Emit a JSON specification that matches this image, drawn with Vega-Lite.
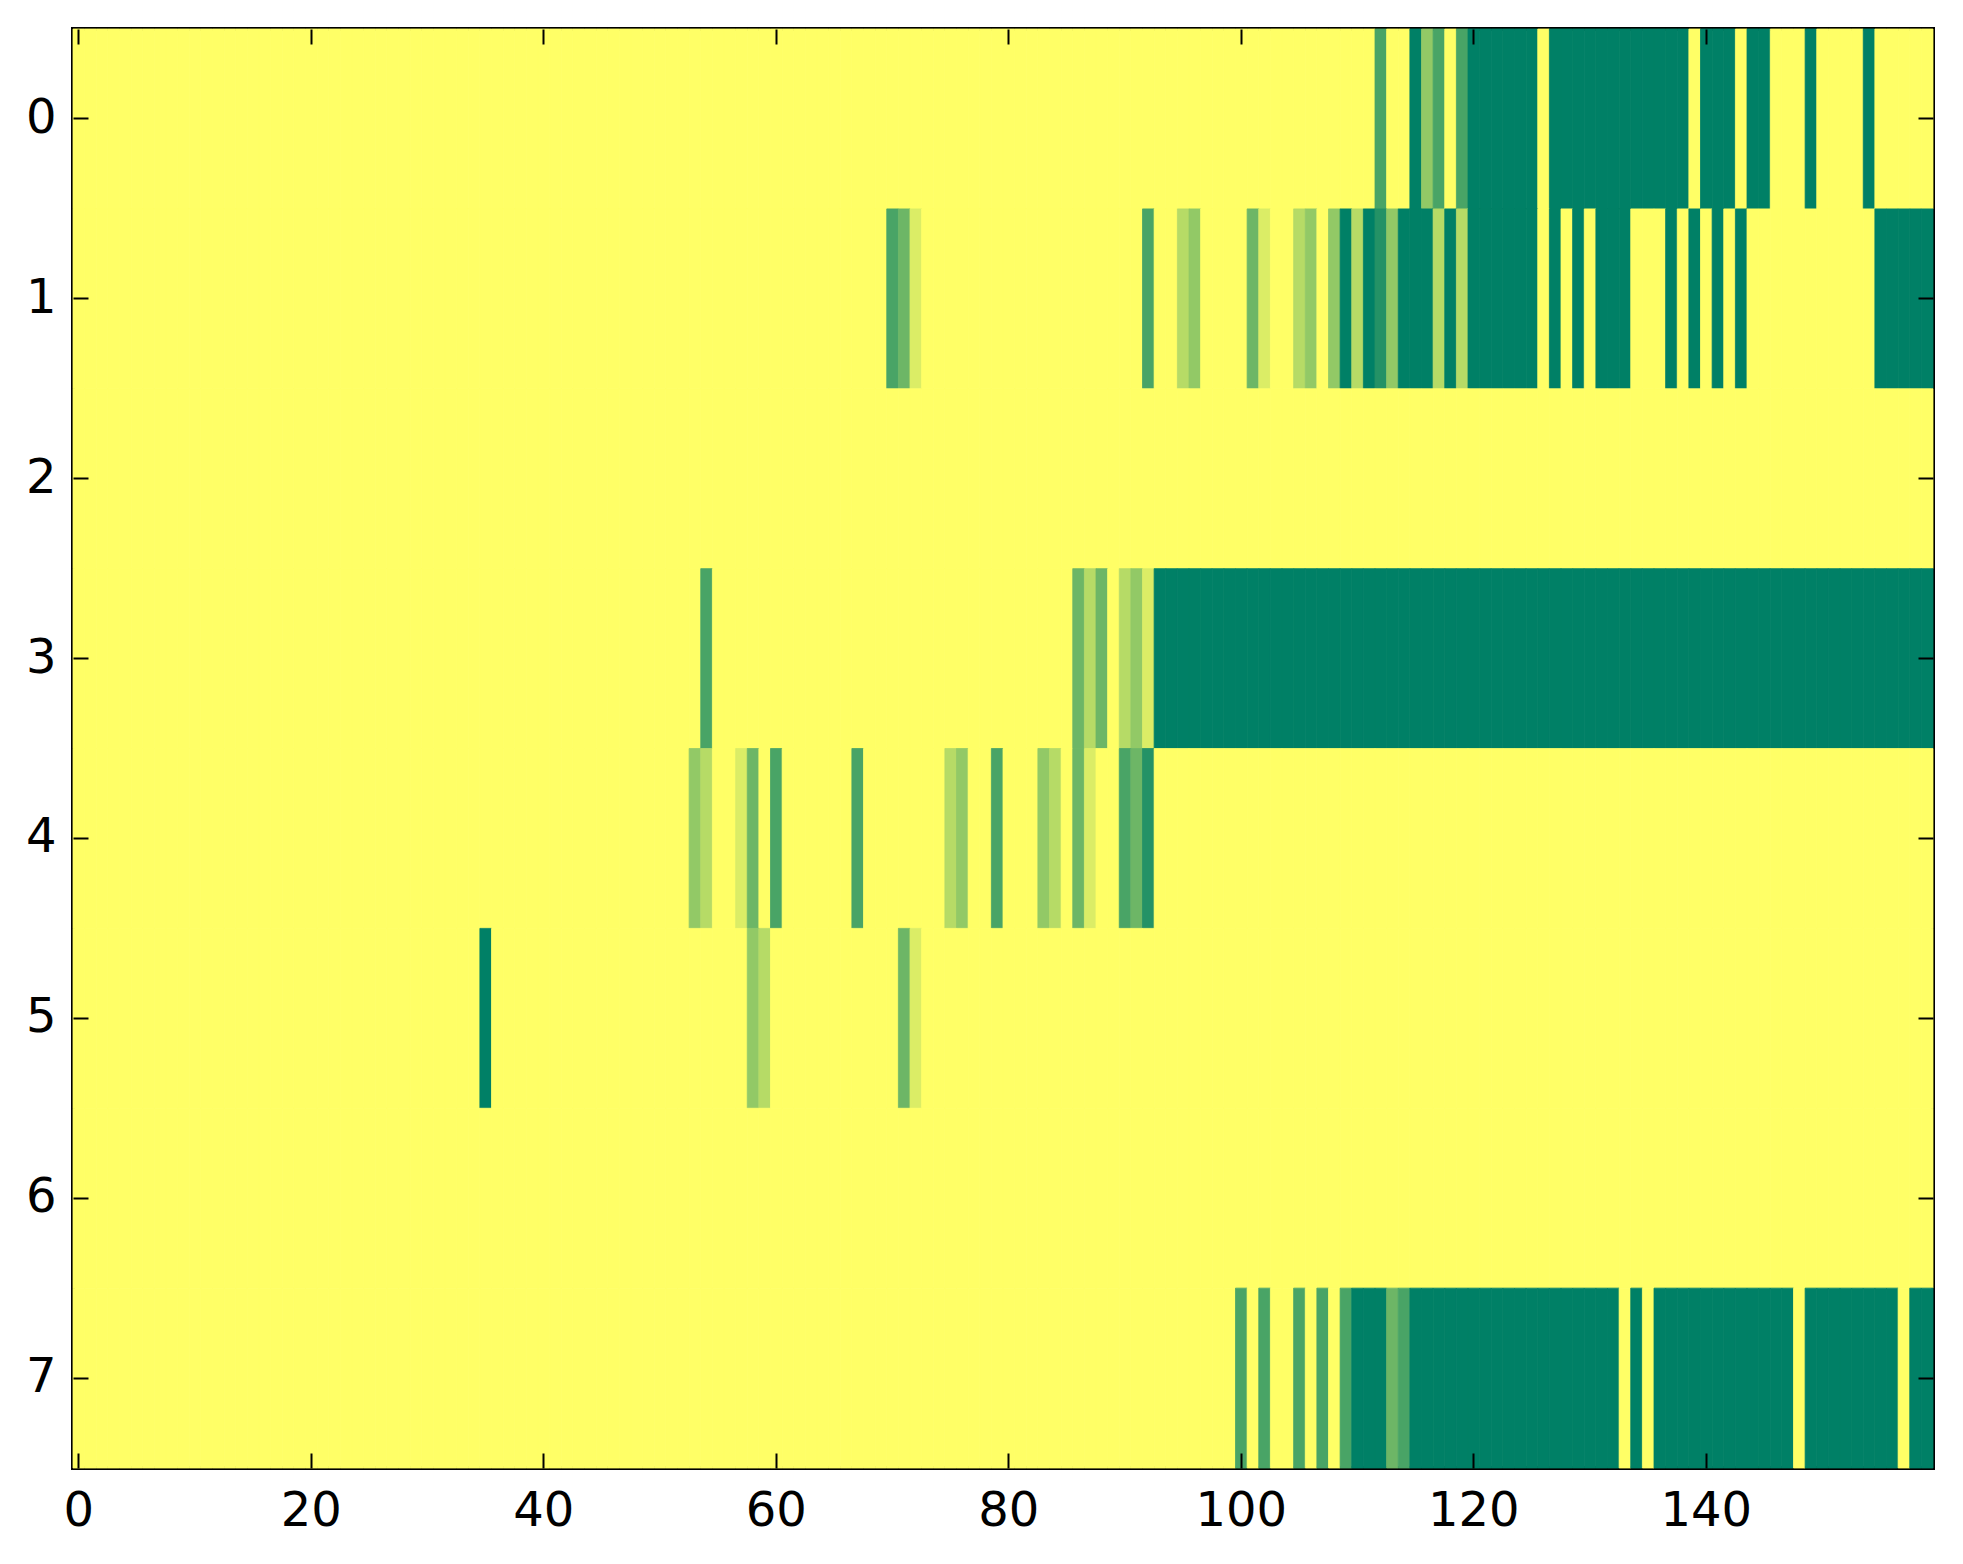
{
  "$schema": "https://vega.github.io/schema/vega-lite/v6.json",
  "width": 1860,
  "height": 1439,
  "autosize": {"type": "none"},
  "padding": {"left": 73, "top": 29, "right": 30, "bottom": 96},
  "background": "white",
  "config": {
    "view": {"stroke": "black", "strokeWidth": 4},
    "axis": {
      "labelFont": "DejaVu Sans",
      "labelFontSize": 48,
      "labelColor": "black",
      "tickColor": "black",
      "tickWidth": 2,
      "tickSize": -15,
      "domain": false,
      "grid": false,
      "title": null,
      "labelAngle": 0
    }
  },
  "data": {"values": [
{"r":0,"c":0,"v":0},{"r":0,"c":1,"v":0},{"r":0,"c":2,"v":0},{"r":0,"c":3,"v":0},{"r":0,"c":4,"v":0},{"r":0,"c":5,"v":0},{"r":0,"c":6,"v":0},{"r":0,"c":7,"v":0},{"r":0,"c":8,"v":0},{"r":0,"c":9,"v":0},
{"r":0,"c":10,"v":0},{"r":0,"c":11,"v":0},{"r":0,"c":12,"v":0},{"r":0,"c":13,"v":0},{"r":0,"c":14,"v":0},{"r":0,"c":15,"v":0},{"r":0,"c":16,"v":0},{"r":0,"c":17,"v":0},{"r":0,"c":18,"v":0},{"r":0,"c":19,"v":0},
{"r":0,"c":20,"v":0},{"r":0,"c":21,"v":0},{"r":0,"c":22,"v":0},{"r":0,"c":23,"v":0},{"r":0,"c":24,"v":0},{"r":0,"c":25,"v":0},{"r":0,"c":26,"v":0},{"r":0,"c":27,"v":0},{"r":0,"c":28,"v":0},{"r":0,"c":29,"v":0},
{"r":0,"c":30,"v":0},{"r":0,"c":31,"v":0},{"r":0,"c":32,"v":0},{"r":0,"c":33,"v":0},{"r":0,"c":34,"v":0},{"r":0,"c":35,"v":0},{"r":0,"c":36,"v":0},{"r":0,"c":37,"v":0},{"r":0,"c":38,"v":0},{"r":0,"c":39,"v":0},
{"r":0,"c":40,"v":0},{"r":0,"c":41,"v":0},{"r":0,"c":42,"v":0},{"r":0,"c":43,"v":0},{"r":0,"c":44,"v":0},{"r":0,"c":45,"v":0},{"r":0,"c":46,"v":0},{"r":0,"c":47,"v":0},{"r":0,"c":48,"v":0},{"r":0,"c":49,"v":0},
{"r":0,"c":50,"v":0},{"r":0,"c":51,"v":0},{"r":0,"c":52,"v":0},{"r":0,"c":53,"v":0},{"r":0,"c":54,"v":0},{"r":0,"c":55,"v":0},{"r":0,"c":56,"v":0},{"r":0,"c":57,"v":0},{"r":0,"c":58,"v":0},{"r":0,"c":59,"v":0},
{"r":0,"c":60,"v":0},{"r":0,"c":61,"v":0},{"r":0,"c":62,"v":0},{"r":0,"c":63,"v":0},{"r":0,"c":64,"v":0},{"r":0,"c":65,"v":0},{"r":0,"c":66,"v":0},{"r":0,"c":67,"v":0},{"r":0,"c":68,"v":0},{"r":0,"c":69,"v":0},
{"r":0,"c":70,"v":0},{"r":0,"c":71,"v":0},{"r":0,"c":72,"v":0},{"r":0,"c":73,"v":0},{"r":0,"c":74,"v":0},{"r":0,"c":75,"v":0},{"r":0,"c":76,"v":0},{"r":0,"c":77,"v":0},{"r":0,"c":78,"v":0},{"r":0,"c":79,"v":0},
{"r":0,"c":80,"v":0},{"r":0,"c":81,"v":0},{"r":0,"c":82,"v":0},{"r":0,"c":83,"v":0},{"r":0,"c":84,"v":0},{"r":0,"c":85,"v":0},{"r":0,"c":86,"v":0},{"r":0,"c":87,"v":0},{"r":0,"c":88,"v":0},{"r":0,"c":89,"v":0},
{"r":0,"c":90,"v":0},{"r":0,"c":91,"v":0},{"r":0,"c":92,"v":0},{"r":0,"c":93,"v":0},{"r":0,"c":94,"v":0},{"r":0,"c":95,"v":0},{"r":0,"c":96,"v":0},{"r":0,"c":97,"v":0},{"r":0,"c":98,"v":0},{"r":0,"c":99,"v":0},
{"r":0,"c":100,"v":0},{"r":0,"c":101,"v":0},{"r":0,"c":102,"v":0},{"r":0,"c":103,"v":0},{"r":0,"c":104,"v":0},{"r":0,"c":105,"v":0},{"r":0,"c":106,"v":0},{"r":0,"c":107,"v":0},{"r":0,"c":108,"v":0},{"r":0,"c":109,"v":0},
{"r":0,"c":110,"v":0},{"r":0,"c":111,"v":0},{"r":0,"c":112,"v":5},{"r":0,"c":113,"v":0},{"r":0,"c":114,"v":0},{"r":0,"c":115,"v":7},{"r":0,"c":116,"v":3},{"r":0,"c":117,"v":5},{"r":0,"c":118,"v":0},{"r":0,"c":119,"v":5},
{"r":0,"c":120,"v":7},{"r":0,"c":121,"v":7},{"r":0,"c":122,"v":7},{"r":0,"c":123,"v":7},{"r":0,"c":124,"v":7},{"r":0,"c":125,"v":7},{"r":0,"c":126,"v":0},{"r":0,"c":127,"v":7},{"r":0,"c":128,"v":7},{"r":0,"c":129,"v":7},
{"r":0,"c":130,"v":7},{"r":0,"c":131,"v":7},{"r":0,"c":132,"v":7},{"r":0,"c":133,"v":7},{"r":0,"c":134,"v":7},{"r":0,"c":135,"v":7},{"r":0,"c":136,"v":7},{"r":0,"c":137,"v":7},{"r":0,"c":138,"v":7},{"r":0,"c":139,"v":0},
{"r":0,"c":140,"v":7},{"r":0,"c":141,"v":7},{"r":0,"c":142,"v":7},{"r":0,"c":143,"v":0},{"r":0,"c":144,"v":7},{"r":0,"c":145,"v":7},{"r":0,"c":146,"v":0},{"r":0,"c":147,"v":0},{"r":0,"c":148,"v":0},{"r":0,"c":149,"v":7},
{"r":0,"c":150,"v":0},{"r":0,"c":151,"v":0},{"r":0,"c":152,"v":0},{"r":0,"c":153,"v":0},{"r":0,"c":154,"v":7},{"r":0,"c":155,"v":0},{"r":0,"c":156,"v":0},{"r":0,"c":157,"v":0},{"r":0,"c":158,"v":0},{"r":0,"c":159,"v":0},
{"r":1,"c":0,"v":0},{"r":1,"c":1,"v":0},{"r":1,"c":2,"v":0},{"r":1,"c":3,"v":0},{"r":1,"c":4,"v":0},{"r":1,"c":5,"v":0},{"r":1,"c":6,"v":0},{"r":1,"c":7,"v":0},{"r":1,"c":8,"v":0},{"r":1,"c":9,"v":0},
{"r":1,"c":10,"v":0},{"r":1,"c":11,"v":0},{"r":1,"c":12,"v":0},{"r":1,"c":13,"v":0},{"r":1,"c":14,"v":0},{"r":1,"c":15,"v":0},{"r":1,"c":16,"v":0},{"r":1,"c":17,"v":0},{"r":1,"c":18,"v":0},{"r":1,"c":19,"v":0},
{"r":1,"c":20,"v":0},{"r":1,"c":21,"v":0},{"r":1,"c":22,"v":0},{"r":1,"c":23,"v":0},{"r":1,"c":24,"v":0},{"r":1,"c":25,"v":0},{"r":1,"c":26,"v":0},{"r":1,"c":27,"v":0},{"r":1,"c":28,"v":0},{"r":1,"c":29,"v":0},
{"r":1,"c":30,"v":0},{"r":1,"c":31,"v":0},{"r":1,"c":32,"v":0},{"r":1,"c":33,"v":0},{"r":1,"c":34,"v":0},{"r":1,"c":35,"v":0},{"r":1,"c":36,"v":0},{"r":1,"c":37,"v":0},{"r":1,"c":38,"v":0},{"r":1,"c":39,"v":0},
{"r":1,"c":40,"v":0},{"r":1,"c":41,"v":0},{"r":1,"c":42,"v":0},{"r":1,"c":43,"v":0},{"r":1,"c":44,"v":0},{"r":1,"c":45,"v":0},{"r":1,"c":46,"v":0},{"r":1,"c":47,"v":0},{"r":1,"c":48,"v":0},{"r":1,"c":49,"v":0},
{"r":1,"c":50,"v":0},{"r":1,"c":51,"v":0},{"r":1,"c":52,"v":0},{"r":1,"c":53,"v":0},{"r":1,"c":54,"v":0},{"r":1,"c":55,"v":0},{"r":1,"c":56,"v":0},{"r":1,"c":57,"v":0},{"r":1,"c":58,"v":0},{"r":1,"c":59,"v":0},
{"r":1,"c":60,"v":0},{"r":1,"c":61,"v":0},{"r":1,"c":62,"v":0},{"r":1,"c":63,"v":0},{"r":1,"c":64,"v":0},{"r":1,"c":65,"v":0},{"r":1,"c":66,"v":0},{"r":1,"c":67,"v":0},{"r":1,"c":68,"v":0},{"r":1,"c":69,"v":0},
{"r":1,"c":70,"v":5},{"r":1,"c":71,"v":4},{"r":1,"c":72,"v":1},{"r":1,"c":73,"v":0},{"r":1,"c":74,"v":0},{"r":1,"c":75,"v":0},{"r":1,"c":76,"v":0},{"r":1,"c":77,"v":0},{"r":1,"c":78,"v":0},{"r":1,"c":79,"v":0},
{"r":1,"c":80,"v":0},{"r":1,"c":81,"v":0},{"r":1,"c":82,"v":0},{"r":1,"c":83,"v":0},{"r":1,"c":84,"v":0},{"r":1,"c":85,"v":0},{"r":1,"c":86,"v":0},{"r":1,"c":87,"v":0},{"r":1,"c":88,"v":0},{"r":1,"c":89,"v":0},
{"r":1,"c":90,"v":0},{"r":1,"c":91,"v":0},{"r":1,"c":92,"v":5},{"r":1,"c":93,"v":0},{"r":1,"c":94,"v":0},{"r":1,"c":95,"v":2},{"r":1,"c":96,"v":3},{"r":1,"c":97,"v":0},{"r":1,"c":98,"v":0},{"r":1,"c":99,"v":0},
{"r":1,"c":100,"v":0},{"r":1,"c":101,"v":4},{"r":1,"c":102,"v":1},{"r":1,"c":103,"v":0},{"r":1,"c":104,"v":0},{"r":1,"c":105,"v":2},{"r":1,"c":106,"v":3},{"r":1,"c":107,"v":0},{"r":1,"c":108,"v":3},{"r":1,"c":109,"v":7},
{"r":1,"c":110,"v":2},{"r":1,"c":111,"v":7},{"r":1,"c":112,"v":6},{"r":1,"c":113,"v":3},{"r":1,"c":114,"v":7},{"r":1,"c":115,"v":7},{"r":1,"c":116,"v":7},{"r":1,"c":117,"v":2},{"r":1,"c":118,"v":7},{"r":1,"c":119,"v":2},
{"r":1,"c":120,"v":7},{"r":1,"c":121,"v":7},{"r":1,"c":122,"v":7},{"r":1,"c":123,"v":7},{"r":1,"c":124,"v":7},{"r":1,"c":125,"v":7},{"r":1,"c":126,"v":0},{"r":1,"c":127,"v":7},{"r":1,"c":128,"v":0},{"r":1,"c":129,"v":7},
{"r":1,"c":130,"v":0},{"r":1,"c":131,"v":7},{"r":1,"c":132,"v":7},{"r":1,"c":133,"v":7},{"r":1,"c":134,"v":0},{"r":1,"c":135,"v":0},{"r":1,"c":136,"v":0},{"r":1,"c":137,"v":7},{"r":1,"c":138,"v":0},{"r":1,"c":139,"v":7},
{"r":1,"c":140,"v":0},{"r":1,"c":141,"v":7},{"r":1,"c":142,"v":0},{"r":1,"c":143,"v":7},{"r":1,"c":144,"v":0},{"r":1,"c":145,"v":0},{"r":1,"c":146,"v":0},{"r":1,"c":147,"v":0},{"r":1,"c":148,"v":0},{"r":1,"c":149,"v":0},
{"r":1,"c":150,"v":0},{"r":1,"c":151,"v":0},{"r":1,"c":152,"v":0},{"r":1,"c":153,"v":0},{"r":1,"c":154,"v":0},{"r":1,"c":155,"v":7},{"r":1,"c":156,"v":7},{"r":1,"c":157,"v":7},{"r":1,"c":158,"v":7},{"r":1,"c":159,"v":7},
{"r":2,"c":0,"v":0},{"r":2,"c":1,"v":0},{"r":2,"c":2,"v":0},{"r":2,"c":3,"v":0},{"r":2,"c":4,"v":0},{"r":2,"c":5,"v":0},{"r":2,"c":6,"v":0},{"r":2,"c":7,"v":0},{"r":2,"c":8,"v":0},{"r":2,"c":9,"v":0},
{"r":2,"c":10,"v":0},{"r":2,"c":11,"v":0},{"r":2,"c":12,"v":0},{"r":2,"c":13,"v":0},{"r":2,"c":14,"v":0},{"r":2,"c":15,"v":0},{"r":2,"c":16,"v":0},{"r":2,"c":17,"v":0},{"r":2,"c":18,"v":0},{"r":2,"c":19,"v":0},
{"r":2,"c":20,"v":0},{"r":2,"c":21,"v":0},{"r":2,"c":22,"v":0},{"r":2,"c":23,"v":0},{"r":2,"c":24,"v":0},{"r":2,"c":25,"v":0},{"r":2,"c":26,"v":0},{"r":2,"c":27,"v":0},{"r":2,"c":28,"v":0},{"r":2,"c":29,"v":0},
{"r":2,"c":30,"v":0},{"r":2,"c":31,"v":0},{"r":2,"c":32,"v":0},{"r":2,"c":33,"v":0},{"r":2,"c":34,"v":0},{"r":2,"c":35,"v":0},{"r":2,"c":36,"v":0},{"r":2,"c":37,"v":0},{"r":2,"c":38,"v":0},{"r":2,"c":39,"v":0},
{"r":2,"c":40,"v":0},{"r":2,"c":41,"v":0},{"r":2,"c":42,"v":0},{"r":2,"c":43,"v":0},{"r":2,"c":44,"v":0},{"r":2,"c":45,"v":0},{"r":2,"c":46,"v":0},{"r":2,"c":47,"v":0},{"r":2,"c":48,"v":0},{"r":2,"c":49,"v":0},
{"r":2,"c":50,"v":0},{"r":2,"c":51,"v":0},{"r":2,"c":52,"v":0},{"r":2,"c":53,"v":0},{"r":2,"c":54,"v":0},{"r":2,"c":55,"v":0},{"r":2,"c":56,"v":0},{"r":2,"c":57,"v":0},{"r":2,"c":58,"v":0},{"r":2,"c":59,"v":0},
{"r":2,"c":60,"v":0},{"r":2,"c":61,"v":0},{"r":2,"c":62,"v":0},{"r":2,"c":63,"v":0},{"r":2,"c":64,"v":0},{"r":2,"c":65,"v":0},{"r":2,"c":66,"v":0},{"r":2,"c":67,"v":0},{"r":2,"c":68,"v":0},{"r":2,"c":69,"v":0},
{"r":2,"c":70,"v":0},{"r":2,"c":71,"v":0},{"r":2,"c":72,"v":0},{"r":2,"c":73,"v":0},{"r":2,"c":74,"v":0},{"r":2,"c":75,"v":0},{"r":2,"c":76,"v":0},{"r":2,"c":77,"v":0},{"r":2,"c":78,"v":0},{"r":2,"c":79,"v":0},
{"r":2,"c":80,"v":0},{"r":2,"c":81,"v":0},{"r":2,"c":82,"v":0},{"r":2,"c":83,"v":0},{"r":2,"c":84,"v":0},{"r":2,"c":85,"v":0},{"r":2,"c":86,"v":0},{"r":2,"c":87,"v":0},{"r":2,"c":88,"v":0},{"r":2,"c":89,"v":0},
{"r":2,"c":90,"v":0},{"r":2,"c":91,"v":0},{"r":2,"c":92,"v":0},{"r":2,"c":93,"v":0},{"r":2,"c":94,"v":0},{"r":2,"c":95,"v":0},{"r":2,"c":96,"v":0},{"r":2,"c":97,"v":0},{"r":2,"c":98,"v":0},{"r":2,"c":99,"v":0},
{"r":2,"c":100,"v":0},{"r":2,"c":101,"v":0},{"r":2,"c":102,"v":0},{"r":2,"c":103,"v":0},{"r":2,"c":104,"v":0},{"r":2,"c":105,"v":0},{"r":2,"c":106,"v":0},{"r":2,"c":107,"v":0},{"r":2,"c":108,"v":0},{"r":2,"c":109,"v":0},
{"r":2,"c":110,"v":0},{"r":2,"c":111,"v":0},{"r":2,"c":112,"v":0},{"r":2,"c":113,"v":0},{"r":2,"c":114,"v":0},{"r":2,"c":115,"v":0},{"r":2,"c":116,"v":0},{"r":2,"c":117,"v":0},{"r":2,"c":118,"v":0},{"r":2,"c":119,"v":0},
{"r":2,"c":120,"v":0},{"r":2,"c":121,"v":0},{"r":2,"c":122,"v":0},{"r":2,"c":123,"v":0},{"r":2,"c":124,"v":0},{"r":2,"c":125,"v":0},{"r":2,"c":126,"v":0},{"r":2,"c":127,"v":0},{"r":2,"c":128,"v":0},{"r":2,"c":129,"v":0},
{"r":2,"c":130,"v":0},{"r":2,"c":131,"v":0},{"r":2,"c":132,"v":0},{"r":2,"c":133,"v":0},{"r":2,"c":134,"v":0},{"r":2,"c":135,"v":0},{"r":2,"c":136,"v":0},{"r":2,"c":137,"v":0},{"r":2,"c":138,"v":0},{"r":2,"c":139,"v":0},
{"r":2,"c":140,"v":0},{"r":2,"c":141,"v":0},{"r":2,"c":142,"v":0},{"r":2,"c":143,"v":0},{"r":2,"c":144,"v":0},{"r":2,"c":145,"v":0},{"r":2,"c":146,"v":0},{"r":2,"c":147,"v":0},{"r":2,"c":148,"v":0},{"r":2,"c":149,"v":0},
{"r":2,"c":150,"v":0},{"r":2,"c":151,"v":0},{"r":2,"c":152,"v":0},{"r":2,"c":153,"v":0},{"r":2,"c":154,"v":0},{"r":2,"c":155,"v":0},{"r":2,"c":156,"v":0},{"r":2,"c":157,"v":0},{"r":2,"c":158,"v":0},{"r":2,"c":159,"v":0},
{"r":3,"c":0,"v":0},{"r":3,"c":1,"v":0},{"r":3,"c":2,"v":0},{"r":3,"c":3,"v":0},{"r":3,"c":4,"v":0},{"r":3,"c":5,"v":0},{"r":3,"c":6,"v":0},{"r":3,"c":7,"v":0},{"r":3,"c":8,"v":0},{"r":3,"c":9,"v":0},
{"r":3,"c":10,"v":0},{"r":3,"c":11,"v":0},{"r":3,"c":12,"v":0},{"r":3,"c":13,"v":0},{"r":3,"c":14,"v":0},{"r":3,"c":15,"v":0},{"r":3,"c":16,"v":0},{"r":3,"c":17,"v":0},{"r":3,"c":18,"v":0},{"r":3,"c":19,"v":0},
{"r":3,"c":20,"v":0},{"r":3,"c":21,"v":0},{"r":3,"c":22,"v":0},{"r":3,"c":23,"v":0},{"r":3,"c":24,"v":0},{"r":3,"c":25,"v":0},{"r":3,"c":26,"v":0},{"r":3,"c":27,"v":0},{"r":3,"c":28,"v":0},{"r":3,"c":29,"v":0},
{"r":3,"c":30,"v":0},{"r":3,"c":31,"v":0},{"r":3,"c":32,"v":0},{"r":3,"c":33,"v":0},{"r":3,"c":34,"v":0},{"r":3,"c":35,"v":0},{"r":3,"c":36,"v":0},{"r":3,"c":37,"v":0},{"r":3,"c":38,"v":0},{"r":3,"c":39,"v":0},
{"r":3,"c":40,"v":0},{"r":3,"c":41,"v":0},{"r":3,"c":42,"v":0},{"r":3,"c":43,"v":0},{"r":3,"c":44,"v":0},{"r":3,"c":45,"v":0},{"r":3,"c":46,"v":0},{"r":3,"c":47,"v":0},{"r":3,"c":48,"v":0},{"r":3,"c":49,"v":0},
{"r":3,"c":50,"v":0},{"r":3,"c":51,"v":0},{"r":3,"c":52,"v":0},{"r":3,"c":53,"v":0},{"r":3,"c":54,"v":5},{"r":3,"c":55,"v":0},{"r":3,"c":56,"v":0},{"r":3,"c":57,"v":0},{"r":3,"c":58,"v":0},{"r":3,"c":59,"v":0},
{"r":3,"c":60,"v":0},{"r":3,"c":61,"v":0},{"r":3,"c":62,"v":0},{"r":3,"c":63,"v":0},{"r":3,"c":64,"v":0},{"r":3,"c":65,"v":0},{"r":3,"c":66,"v":0},{"r":3,"c":67,"v":0},{"r":3,"c":68,"v":0},{"r":3,"c":69,"v":0},
{"r":3,"c":70,"v":0},{"r":3,"c":71,"v":0},{"r":3,"c":72,"v":0},{"r":3,"c":73,"v":0},{"r":3,"c":74,"v":0},{"r":3,"c":75,"v":0},{"r":3,"c":76,"v":0},{"r":3,"c":77,"v":0},{"r":3,"c":78,"v":0},{"r":3,"c":79,"v":0},
{"r":3,"c":80,"v":0},{"r":3,"c":81,"v":0},{"r":3,"c":82,"v":0},{"r":3,"c":83,"v":0},{"r":3,"c":84,"v":0},{"r":3,"c":85,"v":0},{"r":3,"c":86,"v":4},{"r":3,"c":87,"v":2},{"r":3,"c":88,"v":4},{"r":3,"c":89,"v":0},
{"r":3,"c":90,"v":2},{"r":3,"c":91,"v":3},{"r":3,"c":92,"v":1},{"r":3,"c":93,"v":7},{"r":3,"c":94,"v":7},{"r":3,"c":95,"v":7},{"r":3,"c":96,"v":7},{"r":3,"c":97,"v":7},{"r":3,"c":98,"v":7},{"r":3,"c":99,"v":7},
{"r":3,"c":100,"v":7},{"r":3,"c":101,"v":7},{"r":3,"c":102,"v":7},{"r":3,"c":103,"v":7},{"r":3,"c":104,"v":7},{"r":3,"c":105,"v":7},{"r":3,"c":106,"v":7},{"r":3,"c":107,"v":7},{"r":3,"c":108,"v":7},{"r":3,"c":109,"v":7},
{"r":3,"c":110,"v":7},{"r":3,"c":111,"v":7},{"r":3,"c":112,"v":7},{"r":3,"c":113,"v":7},{"r":3,"c":114,"v":7},{"r":3,"c":115,"v":7},{"r":3,"c":116,"v":7},{"r":3,"c":117,"v":7},{"r":3,"c":118,"v":7},{"r":3,"c":119,"v":7},
{"r":3,"c":120,"v":7},{"r":3,"c":121,"v":7},{"r":3,"c":122,"v":7},{"r":3,"c":123,"v":7},{"r":3,"c":124,"v":7},{"r":3,"c":125,"v":7},{"r":3,"c":126,"v":7},{"r":3,"c":127,"v":7},{"r":3,"c":128,"v":7},{"r":3,"c":129,"v":7},
{"r":3,"c":130,"v":7},{"r":3,"c":131,"v":7},{"r":3,"c":132,"v":7},{"r":3,"c":133,"v":7},{"r":3,"c":134,"v":7},{"r":3,"c":135,"v":7},{"r":3,"c":136,"v":7},{"r":3,"c":137,"v":7},{"r":3,"c":138,"v":7},{"r":3,"c":139,"v":7},
{"r":3,"c":140,"v":7},{"r":3,"c":141,"v":7},{"r":3,"c":142,"v":7},{"r":3,"c":143,"v":7},{"r":3,"c":144,"v":7},{"r":3,"c":145,"v":7},{"r":3,"c":146,"v":7},{"r":3,"c":147,"v":7},{"r":3,"c":148,"v":7},{"r":3,"c":149,"v":7},
{"r":3,"c":150,"v":7},{"r":3,"c":151,"v":7},{"r":3,"c":152,"v":7},{"r":3,"c":153,"v":7},{"r":3,"c":154,"v":7},{"r":3,"c":155,"v":7},{"r":3,"c":156,"v":7},{"r":3,"c":157,"v":7},{"r":3,"c":158,"v":7},{"r":3,"c":159,"v":7},
{"r":4,"c":0,"v":0},{"r":4,"c":1,"v":0},{"r":4,"c":2,"v":0},{"r":4,"c":3,"v":0},{"r":4,"c":4,"v":0},{"r":4,"c":5,"v":0},{"r":4,"c":6,"v":0},{"r":4,"c":7,"v":0},{"r":4,"c":8,"v":0},{"r":4,"c":9,"v":0},
{"r":4,"c":10,"v":0},{"r":4,"c":11,"v":0},{"r":4,"c":12,"v":0},{"r":4,"c":13,"v":0},{"r":4,"c":14,"v":0},{"r":4,"c":15,"v":0},{"r":4,"c":16,"v":0},{"r":4,"c":17,"v":0},{"r":4,"c":18,"v":0},{"r":4,"c":19,"v":0},
{"r":4,"c":20,"v":0},{"r":4,"c":21,"v":0},{"r":4,"c":22,"v":0},{"r":4,"c":23,"v":0},{"r":4,"c":24,"v":0},{"r":4,"c":25,"v":0},{"r":4,"c":26,"v":0},{"r":4,"c":27,"v":0},{"r":4,"c":28,"v":0},{"r":4,"c":29,"v":0},
{"r":4,"c":30,"v":0},{"r":4,"c":31,"v":0},{"r":4,"c":32,"v":0},{"r":4,"c":33,"v":0},{"r":4,"c":34,"v":0},{"r":4,"c":35,"v":0},{"r":4,"c":36,"v":0},{"r":4,"c":37,"v":0},{"r":4,"c":38,"v":0},{"r":4,"c":39,"v":0},
{"r":4,"c":40,"v":0},{"r":4,"c":41,"v":0},{"r":4,"c":42,"v":0},{"r":4,"c":43,"v":0},{"r":4,"c":44,"v":0},{"r":4,"c":45,"v":0},{"r":4,"c":46,"v":0},{"r":4,"c":47,"v":0},{"r":4,"c":48,"v":0},{"r":4,"c":49,"v":0},
{"r":4,"c":50,"v":0},{"r":4,"c":51,"v":0},{"r":4,"c":52,"v":0},{"r":4,"c":53,"v":3},{"r":4,"c":54,"v":2},{"r":4,"c":55,"v":0},{"r":4,"c":56,"v":0},{"r":4,"c":57,"v":1},{"r":4,"c":58,"v":4},{"r":4,"c":59,"v":0},
{"r":4,"c":60,"v":5},{"r":4,"c":61,"v":0},{"r":4,"c":62,"v":0},{"r":4,"c":63,"v":0},{"r":4,"c":64,"v":0},{"r":4,"c":65,"v":0},{"r":4,"c":66,"v":0},{"r":4,"c":67,"v":5},{"r":4,"c":68,"v":0},{"r":4,"c":69,"v":0},
{"r":4,"c":70,"v":0},{"r":4,"c":71,"v":0},{"r":4,"c":72,"v":0},{"r":4,"c":73,"v":0},{"r":4,"c":74,"v":0},{"r":4,"c":75,"v":2},{"r":4,"c":76,"v":3},{"r":4,"c":77,"v":0},{"r":4,"c":78,"v":0},{"r":4,"c":79,"v":5},
{"r":4,"c":80,"v":0},{"r":4,"c":81,"v":0},{"r":4,"c":82,"v":0},{"r":4,"c":83,"v":3},{"r":4,"c":84,"v":2},{"r":4,"c":85,"v":0},{"r":4,"c":86,"v":4},{"r":4,"c":87,"v":1},{"r":4,"c":88,"v":0},{"r":4,"c":89,"v":0},
{"r":4,"c":90,"v":5},{"r":4,"c":91,"v":4},{"r":4,"c":92,"v":6},{"r":4,"c":93,"v":0},{"r":4,"c":94,"v":0},{"r":4,"c":95,"v":0},{"r":4,"c":96,"v":0},{"r":4,"c":97,"v":0},{"r":4,"c":98,"v":0},{"r":4,"c":99,"v":0},
{"r":4,"c":100,"v":0},{"r":4,"c":101,"v":0},{"r":4,"c":102,"v":0},{"r":4,"c":103,"v":0},{"r":4,"c":104,"v":0},{"r":4,"c":105,"v":0},{"r":4,"c":106,"v":0},{"r":4,"c":107,"v":0},{"r":4,"c":108,"v":0},{"r":4,"c":109,"v":0},
{"r":4,"c":110,"v":0},{"r":4,"c":111,"v":0},{"r":4,"c":112,"v":0},{"r":4,"c":113,"v":0},{"r":4,"c":114,"v":0},{"r":4,"c":115,"v":0},{"r":4,"c":116,"v":0},{"r":4,"c":117,"v":0},{"r":4,"c":118,"v":0},{"r":4,"c":119,"v":0},
{"r":4,"c":120,"v":0},{"r":4,"c":121,"v":0},{"r":4,"c":122,"v":0},{"r":4,"c":123,"v":0},{"r":4,"c":124,"v":0},{"r":4,"c":125,"v":0},{"r":4,"c":126,"v":0},{"r":4,"c":127,"v":0},{"r":4,"c":128,"v":0},{"r":4,"c":129,"v":0},
{"r":4,"c":130,"v":0},{"r":4,"c":131,"v":0},{"r":4,"c":132,"v":0},{"r":4,"c":133,"v":0},{"r":4,"c":134,"v":0},{"r":4,"c":135,"v":0},{"r":4,"c":136,"v":0},{"r":4,"c":137,"v":0},{"r":4,"c":138,"v":0},{"r":4,"c":139,"v":0},
{"r":4,"c":140,"v":0},{"r":4,"c":141,"v":0},{"r":4,"c":142,"v":0},{"r":4,"c":143,"v":0},{"r":4,"c":144,"v":0},{"r":4,"c":145,"v":0},{"r":4,"c":146,"v":0},{"r":4,"c":147,"v":0},{"r":4,"c":148,"v":0},{"r":4,"c":149,"v":0},
{"r":4,"c":150,"v":0},{"r":4,"c":151,"v":0},{"r":4,"c":152,"v":0},{"r":4,"c":153,"v":0},{"r":4,"c":154,"v":0},{"r":4,"c":155,"v":0},{"r":4,"c":156,"v":0},{"r":4,"c":157,"v":0},{"r":4,"c":158,"v":0},{"r":4,"c":159,"v":0},
{"r":5,"c":0,"v":0},{"r":5,"c":1,"v":0},{"r":5,"c":2,"v":0},{"r":5,"c":3,"v":0},{"r":5,"c":4,"v":0},{"r":5,"c":5,"v":0},{"r":5,"c":6,"v":0},{"r":5,"c":7,"v":0},{"r":5,"c":8,"v":0},{"r":5,"c":9,"v":0},
{"r":5,"c":10,"v":0},{"r":5,"c":11,"v":0},{"r":5,"c":12,"v":0},{"r":5,"c":13,"v":0},{"r":5,"c":14,"v":0},{"r":5,"c":15,"v":0},{"r":5,"c":16,"v":0},{"r":5,"c":17,"v":0},{"r":5,"c":18,"v":0},{"r":5,"c":19,"v":0},
{"r":5,"c":20,"v":0},{"r":5,"c":21,"v":0},{"r":5,"c":22,"v":0},{"r":5,"c":23,"v":0},{"r":5,"c":24,"v":0},{"r":5,"c":25,"v":0},{"r":5,"c":26,"v":0},{"r":5,"c":27,"v":0},{"r":5,"c":28,"v":0},{"r":5,"c":29,"v":0},
{"r":5,"c":30,"v":0},{"r":5,"c":31,"v":0},{"r":5,"c":32,"v":0},{"r":5,"c":33,"v":0},{"r":5,"c":34,"v":0},{"r":5,"c":35,"v":7},{"r":5,"c":36,"v":0},{"r":5,"c":37,"v":0},{"r":5,"c":38,"v":0},{"r":5,"c":39,"v":0},
{"r":5,"c":40,"v":0},{"r":5,"c":41,"v":0},{"r":5,"c":42,"v":0},{"r":5,"c":43,"v":0},{"r":5,"c":44,"v":0},{"r":5,"c":45,"v":0},{"r":5,"c":46,"v":0},{"r":5,"c":47,"v":0},{"r":5,"c":48,"v":0},{"r":5,"c":49,"v":0},
{"r":5,"c":50,"v":0},{"r":5,"c":51,"v":0},{"r":5,"c":52,"v":0},{"r":5,"c":53,"v":0},{"r":5,"c":54,"v":0},{"r":5,"c":55,"v":0},{"r":5,"c":56,"v":0},{"r":5,"c":57,"v":0},{"r":5,"c":58,"v":3},{"r":5,"c":59,"v":2},
{"r":5,"c":60,"v":0},{"r":5,"c":61,"v":0},{"r":5,"c":62,"v":0},{"r":5,"c":63,"v":0},{"r":5,"c":64,"v":0},{"r":5,"c":65,"v":0},{"r":5,"c":66,"v":0},{"r":5,"c":67,"v":0},{"r":5,"c":68,"v":0},{"r":5,"c":69,"v":0},
{"r":5,"c":70,"v":0},{"r":5,"c":71,"v":4},{"r":5,"c":72,"v":1},{"r":5,"c":73,"v":0},{"r":5,"c":74,"v":0},{"r":5,"c":75,"v":0},{"r":5,"c":76,"v":0},{"r":5,"c":77,"v":0},{"r":5,"c":78,"v":0},{"r":5,"c":79,"v":0},
{"r":5,"c":80,"v":0},{"r":5,"c":81,"v":0},{"r":5,"c":82,"v":0},{"r":5,"c":83,"v":0},{"r":5,"c":84,"v":0},{"r":5,"c":85,"v":0},{"r":5,"c":86,"v":0},{"r":5,"c":87,"v":0},{"r":5,"c":88,"v":0},{"r":5,"c":89,"v":0},
{"r":5,"c":90,"v":0},{"r":5,"c":91,"v":0},{"r":5,"c":92,"v":0},{"r":5,"c":93,"v":0},{"r":5,"c":94,"v":0},{"r":5,"c":95,"v":0},{"r":5,"c":96,"v":0},{"r":5,"c":97,"v":0},{"r":5,"c":98,"v":0},{"r":5,"c":99,"v":0},
{"r":5,"c":100,"v":0},{"r":5,"c":101,"v":0},{"r":5,"c":102,"v":0},{"r":5,"c":103,"v":0},{"r":5,"c":104,"v":0},{"r":5,"c":105,"v":0},{"r":5,"c":106,"v":0},{"r":5,"c":107,"v":0},{"r":5,"c":108,"v":0},{"r":5,"c":109,"v":0},
{"r":5,"c":110,"v":0},{"r":5,"c":111,"v":0},{"r":5,"c":112,"v":0},{"r":5,"c":113,"v":0},{"r":5,"c":114,"v":0},{"r":5,"c":115,"v":0},{"r":5,"c":116,"v":0},{"r":5,"c":117,"v":0},{"r":5,"c":118,"v":0},{"r":5,"c":119,"v":0},
{"r":5,"c":120,"v":0},{"r":5,"c":121,"v":0},{"r":5,"c":122,"v":0},{"r":5,"c":123,"v":0},{"r":5,"c":124,"v":0},{"r":5,"c":125,"v":0},{"r":5,"c":126,"v":0},{"r":5,"c":127,"v":0},{"r":5,"c":128,"v":0},{"r":5,"c":129,"v":0},
{"r":5,"c":130,"v":0},{"r":5,"c":131,"v":0},{"r":5,"c":132,"v":0},{"r":5,"c":133,"v":0},{"r":5,"c":134,"v":0},{"r":5,"c":135,"v":0},{"r":5,"c":136,"v":0},{"r":5,"c":137,"v":0},{"r":5,"c":138,"v":0},{"r":5,"c":139,"v":0},
{"r":5,"c":140,"v":0},{"r":5,"c":141,"v":0},{"r":5,"c":142,"v":0},{"r":5,"c":143,"v":0},{"r":5,"c":144,"v":0},{"r":5,"c":145,"v":0},{"r":5,"c":146,"v":0},{"r":5,"c":147,"v":0},{"r":5,"c":148,"v":0},{"r":5,"c":149,"v":0},
{"r":5,"c":150,"v":0},{"r":5,"c":151,"v":0},{"r":5,"c":152,"v":0},{"r":5,"c":153,"v":0},{"r":5,"c":154,"v":0},{"r":5,"c":155,"v":0},{"r":5,"c":156,"v":0},{"r":5,"c":157,"v":0},{"r":5,"c":158,"v":0},{"r":5,"c":159,"v":0},
{"r":6,"c":0,"v":0},{"r":6,"c":1,"v":0},{"r":6,"c":2,"v":0},{"r":6,"c":3,"v":0},{"r":6,"c":4,"v":0},{"r":6,"c":5,"v":0},{"r":6,"c":6,"v":0},{"r":6,"c":7,"v":0},{"r":6,"c":8,"v":0},{"r":6,"c":9,"v":0},
{"r":6,"c":10,"v":0},{"r":6,"c":11,"v":0},{"r":6,"c":12,"v":0},{"r":6,"c":13,"v":0},{"r":6,"c":14,"v":0},{"r":6,"c":15,"v":0},{"r":6,"c":16,"v":0},{"r":6,"c":17,"v":0},{"r":6,"c":18,"v":0},{"r":6,"c":19,"v":0},
{"r":6,"c":20,"v":0},{"r":6,"c":21,"v":0},{"r":6,"c":22,"v":0},{"r":6,"c":23,"v":0},{"r":6,"c":24,"v":0},{"r":6,"c":25,"v":0},{"r":6,"c":26,"v":0},{"r":6,"c":27,"v":0},{"r":6,"c":28,"v":0},{"r":6,"c":29,"v":0},
{"r":6,"c":30,"v":0},{"r":6,"c":31,"v":0},{"r":6,"c":32,"v":0},{"r":6,"c":33,"v":0},{"r":6,"c":34,"v":0},{"r":6,"c":35,"v":0},{"r":6,"c":36,"v":0},{"r":6,"c":37,"v":0},{"r":6,"c":38,"v":0},{"r":6,"c":39,"v":0},
{"r":6,"c":40,"v":0},{"r":6,"c":41,"v":0},{"r":6,"c":42,"v":0},{"r":6,"c":43,"v":0},{"r":6,"c":44,"v":0},{"r":6,"c":45,"v":0},{"r":6,"c":46,"v":0},{"r":6,"c":47,"v":0},{"r":6,"c":48,"v":0},{"r":6,"c":49,"v":0},
{"r":6,"c":50,"v":0},{"r":6,"c":51,"v":0},{"r":6,"c":52,"v":0},{"r":6,"c":53,"v":0},{"r":6,"c":54,"v":0},{"r":6,"c":55,"v":0},{"r":6,"c":56,"v":0},{"r":6,"c":57,"v":0},{"r":6,"c":58,"v":0},{"r":6,"c":59,"v":0},
{"r":6,"c":60,"v":0},{"r":6,"c":61,"v":0},{"r":6,"c":62,"v":0},{"r":6,"c":63,"v":0},{"r":6,"c":64,"v":0},{"r":6,"c":65,"v":0},{"r":6,"c":66,"v":0},{"r":6,"c":67,"v":0},{"r":6,"c":68,"v":0},{"r":6,"c":69,"v":0},
{"r":6,"c":70,"v":0},{"r":6,"c":71,"v":0},{"r":6,"c":72,"v":0},{"r":6,"c":73,"v":0},{"r":6,"c":74,"v":0},{"r":6,"c":75,"v":0},{"r":6,"c":76,"v":0},{"r":6,"c":77,"v":0},{"r":6,"c":78,"v":0},{"r":6,"c":79,"v":0},
{"r":6,"c":80,"v":0},{"r":6,"c":81,"v":0},{"r":6,"c":82,"v":0},{"r":6,"c":83,"v":0},{"r":6,"c":84,"v":0},{"r":6,"c":85,"v":0},{"r":6,"c":86,"v":0},{"r":6,"c":87,"v":0},{"r":6,"c":88,"v":0},{"r":6,"c":89,"v":0},
{"r":6,"c":90,"v":0},{"r":6,"c":91,"v":0},{"r":6,"c":92,"v":0},{"r":6,"c":93,"v":0},{"r":6,"c":94,"v":0},{"r":6,"c":95,"v":0},{"r":6,"c":96,"v":0},{"r":6,"c":97,"v":0},{"r":6,"c":98,"v":0},{"r":6,"c":99,"v":0},
{"r":6,"c":100,"v":0},{"r":6,"c":101,"v":0},{"r":6,"c":102,"v":0},{"r":6,"c":103,"v":0},{"r":6,"c":104,"v":0},{"r":6,"c":105,"v":0},{"r":6,"c":106,"v":0},{"r":6,"c":107,"v":0},{"r":6,"c":108,"v":0},{"r":6,"c":109,"v":0},
{"r":6,"c":110,"v":0},{"r":6,"c":111,"v":0},{"r":6,"c":112,"v":0},{"r":6,"c":113,"v":0},{"r":6,"c":114,"v":0},{"r":6,"c":115,"v":0},{"r":6,"c":116,"v":0},{"r":6,"c":117,"v":0},{"r":6,"c":118,"v":0},{"r":6,"c":119,"v":0},
{"r":6,"c":120,"v":0},{"r":6,"c":121,"v":0},{"r":6,"c":122,"v":0},{"r":6,"c":123,"v":0},{"r":6,"c":124,"v":0},{"r":6,"c":125,"v":0},{"r":6,"c":126,"v":0},{"r":6,"c":127,"v":0},{"r":6,"c":128,"v":0},{"r":6,"c":129,"v":0},
{"r":6,"c":130,"v":0},{"r":6,"c":131,"v":0},{"r":6,"c":132,"v":0},{"r":6,"c":133,"v":0},{"r":6,"c":134,"v":0},{"r":6,"c":135,"v":0},{"r":6,"c":136,"v":0},{"r":6,"c":137,"v":0},{"r":6,"c":138,"v":0},{"r":6,"c":139,"v":0},
{"r":6,"c":140,"v":0},{"r":6,"c":141,"v":0},{"r":6,"c":142,"v":0},{"r":6,"c":143,"v":0},{"r":6,"c":144,"v":0},{"r":6,"c":145,"v":0},{"r":6,"c":146,"v":0},{"r":6,"c":147,"v":0},{"r":6,"c":148,"v":0},{"r":6,"c":149,"v":0},
{"r":6,"c":150,"v":0},{"r":6,"c":151,"v":0},{"r":6,"c":152,"v":0},{"r":6,"c":153,"v":0},{"r":6,"c":154,"v":0},{"r":6,"c":155,"v":0},{"r":6,"c":156,"v":0},{"r":6,"c":157,"v":0},{"r":6,"c":158,"v":0},{"r":6,"c":159,"v":0},
{"r":7,"c":0,"v":0},{"r":7,"c":1,"v":0},{"r":7,"c":2,"v":0},{"r":7,"c":3,"v":0},{"r":7,"c":4,"v":0},{"r":7,"c":5,"v":0},{"r":7,"c":6,"v":0},{"r":7,"c":7,"v":0},{"r":7,"c":8,"v":0},{"r":7,"c":9,"v":0},
{"r":7,"c":10,"v":0},{"r":7,"c":11,"v":0},{"r":7,"c":12,"v":0},{"r":7,"c":13,"v":0},{"r":7,"c":14,"v":0},{"r":7,"c":15,"v":0},{"r":7,"c":16,"v":0},{"r":7,"c":17,"v":0},{"r":7,"c":18,"v":0},{"r":7,"c":19,"v":0},
{"r":7,"c":20,"v":0},{"r":7,"c":21,"v":0},{"r":7,"c":22,"v":0},{"r":7,"c":23,"v":0},{"r":7,"c":24,"v":0},{"r":7,"c":25,"v":0},{"r":7,"c":26,"v":0},{"r":7,"c":27,"v":0},{"r":7,"c":28,"v":0},{"r":7,"c":29,"v":0},
{"r":7,"c":30,"v":0},{"r":7,"c":31,"v":0},{"r":7,"c":32,"v":0},{"r":7,"c":33,"v":0},{"r":7,"c":34,"v":0},{"r":7,"c":35,"v":0},{"r":7,"c":36,"v":0},{"r":7,"c":37,"v":0},{"r":7,"c":38,"v":0},{"r":7,"c":39,"v":0},
{"r":7,"c":40,"v":0},{"r":7,"c":41,"v":0},{"r":7,"c":42,"v":0},{"r":7,"c":43,"v":0},{"r":7,"c":44,"v":0},{"r":7,"c":45,"v":0},{"r":7,"c":46,"v":0},{"r":7,"c":47,"v":0},{"r":7,"c":48,"v":0},{"r":7,"c":49,"v":0},
{"r":7,"c":50,"v":0},{"r":7,"c":51,"v":0},{"r":7,"c":52,"v":0},{"r":7,"c":53,"v":0},{"r":7,"c":54,"v":0},{"r":7,"c":55,"v":0},{"r":7,"c":56,"v":0},{"r":7,"c":57,"v":0},{"r":7,"c":58,"v":0},{"r":7,"c":59,"v":0},
{"r":7,"c":60,"v":0},{"r":7,"c":61,"v":0},{"r":7,"c":62,"v":0},{"r":7,"c":63,"v":0},{"r":7,"c":64,"v":0},{"r":7,"c":65,"v":0},{"r":7,"c":66,"v":0},{"r":7,"c":67,"v":0},{"r":7,"c":68,"v":0},{"r":7,"c":69,"v":0},
{"r":7,"c":70,"v":0},{"r":7,"c":71,"v":0},{"r":7,"c":72,"v":0},{"r":7,"c":73,"v":0},{"r":7,"c":74,"v":0},{"r":7,"c":75,"v":0},{"r":7,"c":76,"v":0},{"r":7,"c":77,"v":0},{"r":7,"c":78,"v":0},{"r":7,"c":79,"v":0},
{"r":7,"c":80,"v":0},{"r":7,"c":81,"v":0},{"r":7,"c":82,"v":0},{"r":7,"c":83,"v":0},{"r":7,"c":84,"v":0},{"r":7,"c":85,"v":0},{"r":7,"c":86,"v":0},{"r":7,"c":87,"v":0},{"r":7,"c":88,"v":0},{"r":7,"c":89,"v":0},
{"r":7,"c":90,"v":0},{"r":7,"c":91,"v":0},{"r":7,"c":92,"v":0},{"r":7,"c":93,"v":0},{"r":7,"c":94,"v":0},{"r":7,"c":95,"v":0},{"r":7,"c":96,"v":0},{"r":7,"c":97,"v":0},{"r":7,"c":98,"v":0},{"r":7,"c":99,"v":0},
{"r":7,"c":100,"v":5},{"r":7,"c":101,"v":0},{"r":7,"c":102,"v":5},{"r":7,"c":103,"v":0},{"r":7,"c":104,"v":0},{"r":7,"c":105,"v":5},{"r":7,"c":106,"v":0},{"r":7,"c":107,"v":5},{"r":7,"c":108,"v":0},{"r":7,"c":109,"v":5},
{"r":7,"c":110,"v":7},{"r":7,"c":111,"v":7},{"r":7,"c":112,"v":7},{"r":7,"c":113,"v":4},{"r":7,"c":114,"v":5},{"r":7,"c":115,"v":7},{"r":7,"c":116,"v":7},{"r":7,"c":117,"v":7},{"r":7,"c":118,"v":7},{"r":7,"c":119,"v":7},
{"r":7,"c":120,"v":7},{"r":7,"c":121,"v":7},{"r":7,"c":122,"v":7},{"r":7,"c":123,"v":7},{"r":7,"c":124,"v":7},{"r":7,"c":125,"v":7},{"r":7,"c":126,"v":7},{"r":7,"c":127,"v":7},{"r":7,"c":128,"v":7},{"r":7,"c":129,"v":7},
{"r":7,"c":130,"v":7},{"r":7,"c":131,"v":7},{"r":7,"c":132,"v":7},{"r":7,"c":133,"v":0},{"r":7,"c":134,"v":7},{"r":7,"c":135,"v":0},{"r":7,"c":136,"v":7},{"r":7,"c":137,"v":7},{"r":7,"c":138,"v":7},{"r":7,"c":139,"v":7},
{"r":7,"c":140,"v":7},{"r":7,"c":141,"v":7},{"r":7,"c":142,"v":7},{"r":7,"c":143,"v":7},{"r":7,"c":144,"v":7},{"r":7,"c":145,"v":7},{"r":7,"c":146,"v":7},{"r":7,"c":147,"v":7},{"r":7,"c":148,"v":0},{"r":7,"c":149,"v":7},
{"r":7,"c":150,"v":7},{"r":7,"c":151,"v":7},{"r":7,"c":152,"v":7},{"r":7,"c":153,"v":7},{"r":7,"c":154,"v":7},{"r":7,"c":155,"v":7},{"r":7,"c":156,"v":7},{"r":7,"c":157,"v":0},{"r":7,"c":158,"v":7},{"r":7,"c":159,"v":7}
  ]},
  "layer": [
    {
      "mark": {"type": "rect", "strokeWidth": 0.8},
      "encoding": {
        "x": {
          "field": "c", "type": "ordinal",
          "scale": {"paddingInner": 0, "paddingOuter": 0},
          "axis": {"orient": "bottom", "values": [0, 20, 40, 60, 80, 100, 120, 140], "labelPadding": 34}
        },
        "y": {
          "field": "r", "type": "ordinal",
          "scale": {"paddingInner": 0, "paddingOuter": 0},
          "axis": {"orient": "left", "labelPadding": 32}
        },
        "color": {
          "field": "v", "type": "quantitative",
          "scale": {"domain": [0, 7], "range": ["#ffff66", "#008066"], "interpolate": "rgb"},
          "legend": null
        },
        "stroke": {
          "field": "v", "type": "quantitative",
          "scale": {"domain": [0, 7], "range": ["#ffff66", "#008066"], "interpolate": "rgb"},
          "legend": null
        }
      }
    },
    {
      "mark": {"type": "rect", "opacity": 0},
      "encoding": {
        "x": {
          "field": "c", "type": "ordinal",
          "axis": {"orient": "top", "values": [0, 20, 40, 60, 80, 100, 120, 140], "labels": false}
        },
        "y": {
          "field": "r", "type": "ordinal",
          "axis": {"orient": "right", "labels": false}
        }
      }
    }
  ],
  "resolve": {"axis": {"x": "independent", "y": "independent"}}
}
